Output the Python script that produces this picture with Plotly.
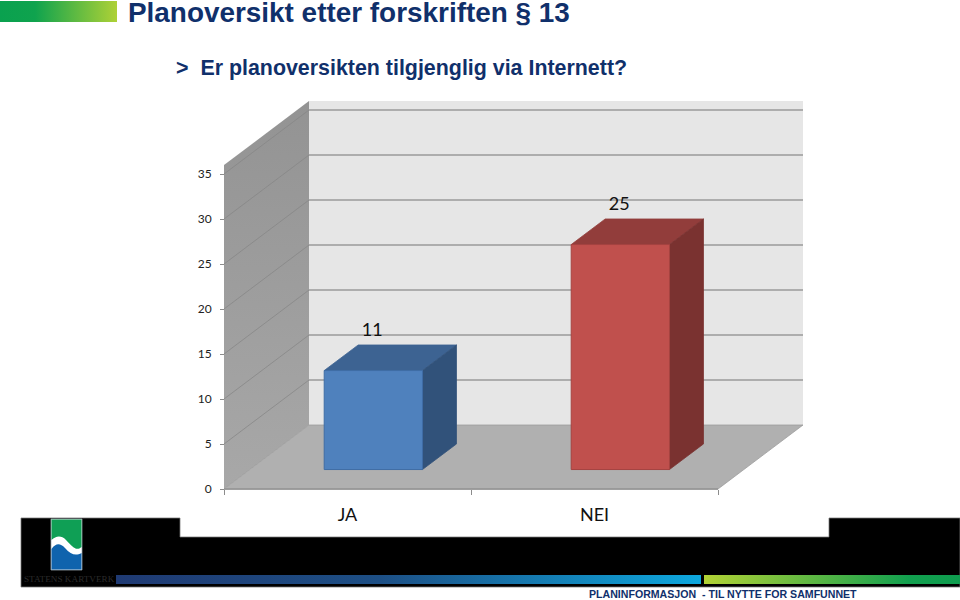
import plotly.graph_objects as go

# ---- data ----
categories = ["JA", "NEI"]
values = [11, 25]
y_ticks = [0, 5, 10, 15, 20, 25, 30, 35]
y_top = 36
title_text = "Planoversikt etter forskriften § 13"
subtitle_text = ">  Er planoversikten tilgjenglig via Internett?"
footer_text = "PLANINFORMASJON  - TIL NYTTE FOR SAMFUNNET"
logo_text = "STATENS KARTVERK"

# ---- projection of the 3-D box onto the 2-D chart axes ----
PX_PER_UNIT = 9.0
PX_PER_CAT = 247.0
ORIGIN_X, ORIGIN_Y = 224.0, 489.0
DEPTH_DX = 85.0 / PX_PER_CAT      # category units per depth
DEPTH_DY = 64.0 / PX_PER_UNIT     # value units per depth
BAR_W = 0.398
BAR_D0, BAR_D1 = 0.304, 0.704


def P(cat, depth, val):
    return cat + depth * DEPTH_DX, val + depth * DEPTH_DY


def poly(points, color=None, line=None, lw=0, grad=None, axes=("x", "y")):
    pts = list(points) + [points[0]]
    kw = dict(
        x=[p[0] for p in pts], y=[p[1] for p in pts], mode="lines", fill="toself",
        xaxis=axes[0], yaxis=axes[1], hoverinfo="skip", showlegend=False,
        line=dict(color=line or "rgba(0,0,0,0)", width=lw),
    )
    if grad:
        kw["fillgradient"] = grad
    else:
        kw["fillcolor"] = color
    return go.Scatter(**kw)


def seg(a, b, color, lw):
    return go.Scatter(x=[a[0], b[0]], y=[a[1], b[1]], mode="lines", hoverinfo="skip",
                      showlegend=False, line=dict(color=color, width=lw))


n = len(categories)
fig = go.Figure()

# walls and floor
fig.add_trace(poly([P(0, 0, 0), P(0, 1, 0), P(0, 1, y_top), P(0, 0, y_top)],
                   grad=dict(type="vertical", colorscale=[[0, "#a8a8a8"], [1, "#939393"]])))
fig.add_trace(poly([P(0, 1, 0), P(n, 1, 0), P(n, 1, y_top), P(0, 1, y_top)], color="#e6e6e6"))
fig.add_trace(poly([P(0, 0, 0), P(n, 0, 0), P(n, 1, 0), P(0, 1, 0)], color="#b0b0b0",
                   line="#989898", lw=0.75))

# gridlines
for v in y_ticks[1:]:
    fig.add_trace(seg(P(0, 0, v), P(0, 1, v), "#868686", 0.75))
    fig.add_trace(seg(P(0, 1, v), P(n, 1, v), "#9a9a9a", 1.5))

# bars
bar_styles = [
    dict(front="#4f81bd", top="#3d6392", side="#31527a", edge="#3f6da5"),
    dict(front="#c0504d", top="#923d3b", side="#7a3230", edge="#a54340"),
]
for i, (val, st) in enumerate(zip(values, bar_styles)):
    c0 = i + 0.5 - BAR_W / 2
    c1 = i + 0.5 + BAR_W / 2
    fig.add_trace(poly([P(c0, BAR_D0, val), P(c1, BAR_D0, val), P(c1, BAR_D1, val), P(c0, BAR_D1, val)],
                       color=st["top"], line=st["top"], lw=0.75))
    fig.add_trace(poly([P(c1, BAR_D0, 0), P(c1, BAR_D1, 0), P(c1, BAR_D1, val), P(c1, BAR_D0, val)],
                       color=st["side"], line=st["side"], lw=0.75))
    fig.add_trace(poly([P(c0, BAR_D0, 0), P(c1, BAR_D0, 0), P(c1, BAR_D0, val), P(c0, BAR_D0, val)],
                       color=st["front"], line=st["edge"], lw=1))

# data labels
lab = [P(i + 0.5, 0.29, v) for i, v in enumerate(values)]
fig.add_trace(go.Scatter(
    x=[p[0] for p in lab], y=[p[1] + 4.42 for p in lab], mode="text",
    text=[str(v) for v in values], textposition="middle center",
    textfont=dict(family="Lato", size=18, color="#111111"),
    hoverinfo="skip", showlegend=False))

# floor front edge
fig.add_trace(seg(P(0, 0, 0), P(n, 0, 0), "#8c8c8c", 1.25))

# ---- page decoration, drawn on a hidden axis pair measured in page units ----
DEC = ("x2", "y2")
fig.add_trace(poly([(0, 1), (117, 1), (117, 22), (0, 22)], axes=DEC,
                   grad=dict(type="horizontal",
                             colorscale=[[0, "#0aa14f"], [0.3, "#0fa34e"], [1, "#aed136"]])))
fig.add_trace(poly([(116, 575), (701, 575), (701, 584), (116, 584)], axes=DEC,
                   grad=dict(type="horizontal",
                             colorscale=[[0, "#1f3a73"], [0.45, "#1d4f85"], [1, "#0da8de"]])))
fig.add_trace(poly([(704, 575), (960, 575), (960, 584), (704, 584)], axes=DEC,
                   grad=dict(type="horizontal",
                             colorscale=[[0, "#b2d235"], [0.8, "#12a04f"], [1, "#0f9d4f"]])))

shapes = [
    dict(type="path", xref="x2", yref="y2", layer="below", fillcolor="#000000",
         line=dict(color="#777777", width=0.75),
         path="M21,518 L180,518 L180,537 L829,537 L829,518 L960,518 L960,587 L21,587 Z"),
    dict(type="rect", xref="x2", yref="y2", x0=51, x1=82, y0=519, y1=570,
         fillcolor="#ffffff", line=dict(color="#9aa6ad", width=0.75), layer="below"),
    dict(type="path", xref="x2", yref="y2", fillcolor="#0f9f55", line=dict(width=0), layer="below",
         path="M51.5,519.5 L81.5,519.5 L81.5,547 C76,552 72,546 66,540 C61,535 56,536 51.5,540 Z"),
    dict(type="path", xref="x2", yref="y2", fillcolor="#0f63ad", line=dict(width=0), layer="below",
         path="M51.5,549 C56,543 60,543 65,548 C71,555 76,556 81.5,553 L81.5,569.5 L51.5,569.5 Z"),
]

NAVY = "#10306b"
ann = [
    dict(text=title_text, x=126, y=12, size=27.9, color=NAVY, family="Liberation Sans", bold=True),
    dict(text=subtitle_text, x=174, y=67.5, size=21.4, color=NAVY, family="Liberation Sans", bold=True),
    dict(text=footer_text, x=587, y=594, size=10.6, color=NAVY, family="Liberation Sans", bold=True),
    dict(text=logo_text, x=22, y=579, size=9.2, color="#2b2b2b", family="Liberation Serif", bold=False),
]
annotations = [
    dict(xref="x2", yref="y2", x=a["x"], y=a["y"], xanchor="left", yanchor="middle", showarrow=False,
         text=f"<b>{a['text']}</b>" if a["bold"] else a["text"],
         font=dict(family=a["family"], size=a["size"], color=a["color"]))
    for a in ann
]

W, H = 960, 600
fig.update_layout(
    width=W, height=H, autosize=False,
    margin=dict(l=0, r=0, t=0, b=0, pad=0),
    paper_bgcolor="white", plot_bgcolor="rgba(0,0,0,0)",
    showlegend=False, shapes=shapes, annotations=annotations,
    xaxis=dict(
        domain=[0, 1], range=[-ORIGIN_X / PX_PER_CAT, (W - ORIGIN_X) / PX_PER_CAT],
        anchor="free", position=(H - ORIGIN_Y) / H,
        tickmode="array", tickvals=[i + 0.5 for i in range(n)], ticktext=categories,
        ticks="", showgrid=False, zeroline=False, showline=False, ticklabelstandoff=13,
        tickfont=dict(family="Lato", size=18, color="#111111"),
        minor=dict(tickmode="array", tickvals=list(range(n + 1)), ticks="outside", ticklen=5,
                   tickcolor="#8c8c8c", tickwidth=1.25, showgrid=False),
    ),
    yaxis=dict(
        domain=[0, 1], range=[-(H - ORIGIN_Y) / PX_PER_UNIT, ORIGIN_Y / PX_PER_UNIT],
        anchor="free", position=ORIGIN_X / W,
        tickmode="array", tickvals=y_ticks, ticktext=[str(t) for t in y_ticks],
        ticks="outside", ticklen=4, tickcolor="#8c8c8c", ticklabelstandoff=6,
        showgrid=False, zeroline=False, showline=False,
        tickfont=dict(family="Lato", size=12, color="#222222"),
    ),
    xaxis2=dict(overlaying="x", range=[0, W], visible=False, anchor="y2"),
    yaxis2=dict(overlaying="y", range=[H, 0], visible=False, anchor="x2"),
)
fig.write_html("out.html", config=dict(displayModeBar=False),
               post_script="document.body.style.margin='0';document.documentElement.style.overflow='hidden';")
